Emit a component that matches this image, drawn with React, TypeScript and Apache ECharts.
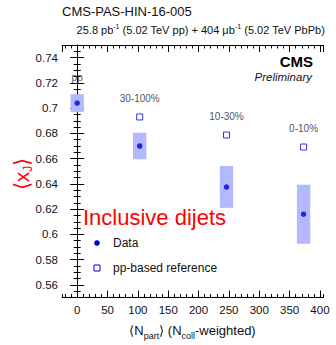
import React, { useEffect, useRef } from "react";
import * as echarts from "echarts";

// ---- data ----
const centralityLabels = ["pp", "30-100%", "10-30%", "0-10%"];
const nPart = [0, 103, 246, 373];
const dataXJ = [0.704, 0.67, 0.6375, 0.616];
const sysLow = [0.697, 0.6595, 0.621, 0.5926];
const sysHigh = [0.711, 0.6805, 0.6542, 0.6393];
const refNPart = [103, 246, 373];
const refXJ = [0.693, 0.6787, 0.6692];
const labelY = [0.7239, 0.708, 0.693, 0.6835];
const xRange = [-25, 405];
const yRange = [0.55, 0.75];

const FONT = "'Liberation Sans', Arial, Helvetica, sans-serif";
const BOX_HALF_WIDTH = 11;

export default function App() {
  const ref = useRef<HTMLDivElement>(null);
  useEffect(() => {
    document.body.style.margin = "0";
    const chart = echarts.init(ref.current!, null, { renderer: "svg" });
    const black = "#000";
    const baseX = {
      type: "value" as const,
      min: xRange[0],
      max: xRange[1],
      splitLine: { show: false },
    };
    const baseY = {
      type: "value" as const,
      min: yRange[0],
      max: yRange[1],
      splitLine: { show: false },
    };
    const option: any = {
      animation: false,
      textStyle: { fontFamily: FONT },
      grid: {
        left: 62,
        top: 45,
        right: 13,
        bottom: 47.5,
        containLabel: false,
        outerBoundsMode: "none",
      },
      xAxis: [
        {
          ...baseX,
          position: "bottom",
          splitNumber: 8,
          axisLine: { show: true, lineStyle: { color: black, width: 1 } },
          axisTick: { show: true, inside: true, length: 7, lineStyle: { color: black } },
          axisLabel: {
            show: true,
            showMinLabel: false,
            showMaxLabel: false,
            fontSize: 11.5,
            color: "#111",
            margin: 6,
            fontFamily: FONT,
          },
          name: "{a|⟨N}{s|part}{a|⟩ (N}{s|coll}{a|-weighted)}",
          nameLocation: "middle",
          nameGap: 25,
          nameTextStyle: {
            color: "#111",
            fontFamily: FONT,
            rich: {
              a: { fontSize: 13, lineHeight: 16, fontFamily: FONT, color: "#111" },
              s: { fontSize: 9, lineHeight: 9, padding: [10, 0, 0, 0], fontFamily: FONT, color: "#111" },
            },
          },
        },
        {
          ...baseX,
          position: "bottom",
          splitNumber: 43,
          axisLine: { show: false },
          axisTick: { show: true, inside: true, length: 3.5, lineStyle: { color: black } },
          axisLabel: { show: false },
        },
        {
          ...baseX,
          position: "top",
          splitNumber: 8,
          axisLine: { show: true, lineStyle: { color: black, width: 1 } },
          axisTick: { show: true, inside: true, length: 7, lineStyle: { color: black } },
          axisLabel: { show: false },
        },
        {
          ...baseX,
          position: "top",
          splitNumber: 43,
          axisLine: { show: false },
          axisTick: { show: true, inside: true, length: 3.5, lineStyle: { color: black } },
          axisLabel: { show: false },
        },
      ],
      yAxis: [
        {
          ...baseY,
          position: "left",
          splitNumber: 10,
          axisLine: { show: true, lineStyle: { color: black, width: 1 } },
          axisTick: { show: true, inside: true, length: 7, lineStyle: { color: black } },
          axisLabel: {
            show: true,
            showMinLabel: false,
            showMaxLabel: false,
            fontSize: 11.5,
            color: "#111",
            margin: 4,
            fontFamily: FONT,
          },
        },
        {
          ...baseY,
          position: "left",
          splitNumber: 40,
          axisLine: { show: false },
          axisTick: { show: true, inside: true, length: 3.5, lineStyle: { color: black } },
          axisLabel: { show: false },
        },
        {
          ...baseY,
          position: "right",
          splitNumber: 10,
          axisLine: { show: true, lineStyle: { color: black, width: 1 } },
          axisTick: { show: true, inside: true, length: 7, lineStyle: { color: black } },
          axisLabel: { show: false },
        },
        {
          ...baseY,
          position: "right",
          splitNumber: 40,
          axisLine: { show: false },
          axisTick: { show: true, inside: true, length: 3.5, lineStyle: { color: black } },
          axisLabel: { show: false },
        },
      ],
      series: [
        {
          type: "custom",
          xAxisIndex: 0,
          yAxisIndex: 0,
          silent: true,
          data: nPart.map((x, i) => [x, sysLow[i], sysHigh[i]]),
          renderItem: (params: any, api: any) => {
            const x = api.value(0);
            const lo = api.value(1);
            const hi = api.value(2);
            const p1 = api.coord([x - BOX_HALF_WIDTH, hi]);
            const p2 = api.coord([x + BOX_HALF_WIDTH, lo]);
            return {
              type: "rect",
              shape: { x: p1[0], y: p1[1], width: p2[0] - p1[0], height: p2[1] - p1[1] },
              style: { fill: "#b3b9ff" },
            };
          },
          z: 1,
        },
        {
          type: "scatter",
          xAxisIndex: 0,
          yAxisIndex: 0,
          silent: true,
          symbol: "circle",
          symbolSize: 5.5,
          itemStyle: { color: "#0000cc" },
          data: nPart.map((x, i) => [x, dataXJ[i]]),
          z: 3,
        },
        {
          type: "scatter",
          xAxisIndex: 0,
          yAxisIndex: 0,
          silent: true,
          symbol: "rect",
          symbolSize: 6,
          itemStyle: { color: "#ffffff", borderColor: "#0000ee", borderWidth: 1 },
          data: refNPart.map((x, i) => [x, refXJ[i]]),
          z: 3,
        },
        {
          type: "scatter",
          xAxisIndex: 0,
          yAxisIndex: 0,
          silent: true,
          symbolSize: 1,
          itemStyle: { color: "rgba(0,0,0,0)" },
          data: nPart.map((x, i) => [x, labelY[i], centralityLabels[i]]),
          label: {
            show: true,
            position: "inside",
            formatter: (p: any) => p.data[2],
            fontSize: 10,
            color: "#222",
            fontFamily: FONT,
          },
          z: 4,
        },
      ],
      graphic: [
        {
          type: "text",
          left: 62,
          top: 5,
          style: { text: "CMS-PAS-HIN-16-005", font: `13px ${FONT}`, fill: "#111" },
        },
        {
          type: "text",
          right: 11,
          top: 23,
          style: {
            text: "{a|25.8 pb}{s|-1}{a| (5.02 TeV pp) + 404 μb}{s|-1}{a| (5.02 TeV PbPb)}",
            rich: {
              a: { fontSize: 11, lineHeight: 14, fontFamily: FONT, fill: "#111" },
              s: { fontSize: 7, lineHeight: 7, verticalAlign: "top", fontFamily: FONT, fill: "#111" },
            },
            fill: "#111",
          },
        },
        {
          type: "text",
          x: 21,
          y: 174,
          rotation: Math.PI / 2,
          style: {
            text: "{a|⟨x}{s|J}{a|⟩}",
            align: "center",
            verticalAlign: "middle",
            rich: {
              a: { fontSize: 21, lineHeight: 24, fontFamily: FONT, fill: "#ff0000" },
              s: { fontSize: 12, lineHeight: 12, padding: [13, 0, 0, 0], fontFamily: FONT, fill: "#ff0000" },
            },
            fill: "#ff0000",
          },
        },
        {
          type: "text",
          x: 313,
          y: 61,
          style: {
            text: "CMS",
            font: `bold 15px ${FONT}`,
            fill: "#000",
            align: "right",
            verticalAlign: "middle",
          },
        },
        {
          type: "text",
          x: 312,
          y: 77,
          style: {
            text: "Preliminary",
            font: `italic 11.5px ${FONT}`,
            fill: "#111",
            align: "right",
            verticalAlign: "middle",
          },
        },
        {
          type: "text",
          x: 83,
          y: 217,
          style: {
            text: "Inclusive dijets",
            font: `22px ${FONT}`,
            fill: "#ff0000",
            align: "left",
            verticalAlign: "middle",
          },
        },
        {
          type: "circle",
          shape: { cx: 97, cy: 243, r: 2.8 },
          style: { fill: "#0000cc" },
        },
        {
          type: "text",
          x: 113,
          y: 243,
          style: { text: "Data", font: `12px ${FONT}`, fill: "#111", verticalAlign: "middle" },
        },
        {
          type: "rect",
          shape: { x: 94, y: 265, width: 6, height: 6 },
          style: { fill: "#fff", stroke: "#0000ee", lineWidth: 1 },
        },
        {
          type: "text",
          x: 113,
          y: 268,
          style: { text: "pp-based reference", font: `12px ${FONT}`, fill: "#111", verticalAlign: "middle" },
        },
      ],
    };
    chart.setOption(option);
    return () => chart.dispose();
  }, []);
  return <div ref={ref} style={{ width: 336, height: 345 }} />;
}
